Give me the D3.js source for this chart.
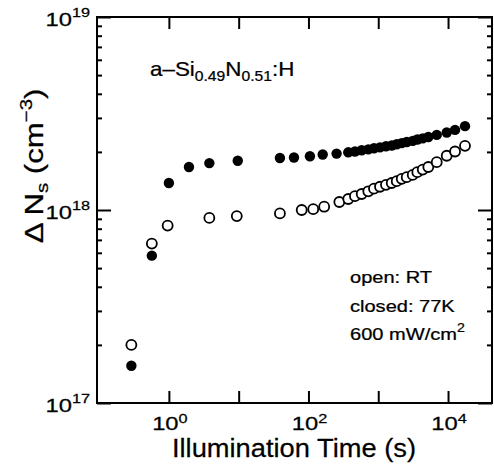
<!DOCTYPE html>
<html>
<head>
<meta charset="utf-8">
<script src="https://cdn.jsdelivr.net/npm/d3@7"></script>
<style>
  body { margin: 0; background: #fff; }
  text { font-family: "Liberation Sans", Arial, Helvetica, sans-serif; fill: #000; stroke: #000; stroke-width: 0.25px; }
</style>
</head>
<body>
<div id="plot"></div>
<script>
// data (time in s, density in cm^-3)
var openTime = [0.29, 0.57, 0.96, 3.8, 9.4, 39, 80, 117, 168, 277, 372, 464, 579, 720, 869,
    1060, 1290, 1560, 1840, 2170, 2560, 3120, 3630, 4340, 5220, 6890, 9580, 12600, 17500];
var openN = [2.0e17, 6.7e17, 8.3e17, 9.1e17, 9.3e17, 9.6e17, 1.00e18, 1.01e18, 1.04e18, 1.10e18,
    1.14e18, 1.18e18, 1.21e18, 1.25e18, 1.29e18, 1.32e18, 1.35e18, 1.38e18, 1.41e18, 1.45e18,
    1.48e18, 1.52e18, 1.57e18, 1.62e18, 1.67e18, 1.77e18, 1.91e18, 2.01e18, 2.15e18];

var closedTime = [0.29, 0.57, 1.0, 1.94, 3.8, 9.7, 39, 62, 105, 160, 253, 372, 464, 579, 720,
    869, 1060, 1290, 1560, 1840, 2170, 2560, 3120, 3630, 4340, 5220, 6890, 9580, 12600, 17500];
var closedN = [1.56e17, 5.8e17, 1.38e18, 1.67e18, 1.75e18, 1.80e18, 1.86e18, 1.87e18, 1.90e18,
    1.94e18, 1.96e18, 1.99e18, 2.01e18, 2.04e18, 2.06e18, 2.09e18, 2.11e18, 2.14e18, 2.16e18,
    2.19e18, 2.22e18, 2.25e18, 2.28e18, 2.32e18, 2.35e18, 2.39e18, 2.45e18, 2.52e18, 2.60e18, 2.72e18];

var xMajor = [1, 10, 100, 1000, 10000];
var xLabels = [[1, '0'], [100, '2'], [10000, '4']];
var yMajor = [1e17, 1e18, 1e19];
var yLabels = [[1e17, '17'], [1e18, '18'], [1e19, '19']];
var yMinor = [];
[1e17, 1e18].forEach(function(d){
    for (var k = 2; k <= 9; k++) yMinor.push(k * d);
});

var W = 494, H = 464;
var margin = {t:17, r:2, b:61, l:97};
var width = W - margin.l - margin.r,
    height = H - margin.t - margin.b;

var svg = d3.select('#plot')
    .append('svg')
    .attr('width', W)
    .attr('height', H);

var plot = svg.append('g')
    .attr('transform', 'translate(' + margin.l + ',' + margin.t + ')');

var x = d3.scaleLog().domain([Math.pow(10, -1.03), Math.pow(10, 4.63)]).range([0, width]);
var y = d3.scaleLog().domain([1e17, 1e19]).range([height, 0]);

function ticks(axis, tx, ty) {
    var g = plot.append('g')
        .attr('transform', 'translate(' + tx + ',' + ty + ')')
        .call(axis);
    g.select('.domain').remove();
    g.selectAll('line').attr('stroke', '#000').attr('stroke-width', 2);
    g.selectAll('text').remove();
}

// major + minor ticks, all pointing inward
ticks(d3.axisBottom(x).tickValues(xMajor).tickSize(-12).tickSizeOuter(0), 0, height);
ticks(d3.axisTop(x).tickValues(xMajor).tickSize(-12).tickSizeOuter(0), 0, 0);
ticks(d3.axisLeft(y).tickValues(yMajor).tickSize(-14).tickSizeOuter(0), 0, 0);
ticks(d3.axisRight(y).tickValues(yMajor).tickSize(-14).tickSizeOuter(0), width, 0);
ticks(d3.axisLeft(y).tickValues(yMinor).tickSize(-5).tickSizeOuter(0), 0, 0);
ticks(d3.axisRight(y).tickValues(yMinor).tickSize(-5).tickSizeOuter(0), width, 0);

plot.append('rect')
    .attr('width', width)
    .attr('height', height)
    .attr('fill', 'none')
    .attr('stroke', '#000')
    .attr('stroke-width', 2);

// tick labels  10^n
yLabels.forEach(function(d){
    var t = plot.append('g')
        .attr('transform', 'translate(-7,' + (y(d[0]) + 9) + ') scale(1.25,1)')
        .append('text')
        .attr('text-anchor', 'end')
        .style('font-size', '19px');
    t.append('tspan').text('10');
    t.append('tspan').attr('dy', -9).style('font-size', '13px').text(d[1]);
});

xLabels.forEach(function(d){
    var t = plot.append('g')
        .attr('transform', 'translate(' + (x(d[0]) + 1) + ',' + (height + 27) + ') scale(1.25,1)')
        .append('text')
        .attr('text-anchor', 'middle')
        .style('font-size', '19px');
    t.append('tspan').text('10');
    t.append('tspan').attr('dy', -7).style('font-size', '13px').text(d[1]);
});

// axis titles
svg.append('g')
    .attr('transform', 'translate(294,457) scale(1.05,1)')
    .append('text')
    .attr('text-anchor', 'middle')
    .style('font-size', '26px')
    .text('Illumination Time (s)');

var yl = svg.append('g')
    .attr('transform', 'translate(43,166) rotate(-90) scale(1.2,1)')
    .append('text')
    .attr('text-anchor', 'middle')
    .style('font-size', '26px');
yl.append('tspan').text('\u0394 N');
yl.append('tspan').attr('dy', 5).style('font-size', '17px').text('s');
yl.append('tspan').attr('dy', -5).text(' (cm');
yl.append('tspan').attr('dy', -11).style('font-size', '17px').text('\u22123');
yl.append('tspan').attr('dy', 11).text(')');

// annotations
var a = svg.append('g')
    .attr('transform', 'translate(150,76) scale(1.12,1)')
    .append('text')
    .style('font-size', '20px');
a.append('tspan').text('a\u2013Si');
a.append('tspan').attr('dy', 5).style('font-size', '14px').text('0.49');
a.append('tspan').attr('dy', -5).text('N');
a.append('tspan').attr('dy', 5).style('font-size', '14px').text('0.51');
a.append('tspan').attr('dy', -5).text(':H');

var notes = svg.append('g')
    .attr('transform', 'translate(350,0) scale(1.18,1)');
notes.append('text').attr('y', 283).style('font-size', '17px').text('open: RT');
notes.append('text').attr('y', 312).style('font-size', '17px').text('closed: 77K');
var n3 = notes.append('text').attr('y', 340).style('font-size', '17px');
n3.append('tspan').text('600 mW/cm');
n3.append('tspan').attr('dy', -8).style('font-size', '12px').text('2');

// data points
var closedPts = closedTime.map(function(t, i){ return {t:t, n:closedN[i]}; });
var openPts = openTime.map(function(t, i){ return {t:t, n:openN[i]}; });

plot.selectAll('.closed')
    .data(closedPts)
    .enter()
    .append('circle')
    .attr('class', 'closed')
    .attr('cx', function(d){ return x(d.t); })
    .attr('cy', function(d){ return y(d.n); })
    .attr('r', 5.2)
    .attr('fill', '#000');

plot.selectAll('.open')
    .data(openPts)
    .enter()
    .append('circle')
    .attr('class', 'open')
    .attr('cx', function(d){ return x(d.t); })
    .attr('cy', function(d){ return y(d.n); })
    .attr('r', 5)
    .attr('fill', '#fff')
    .attr('stroke', '#000')
    .attr('stroke-width', 1.8);
</script>
</body>
</html>
